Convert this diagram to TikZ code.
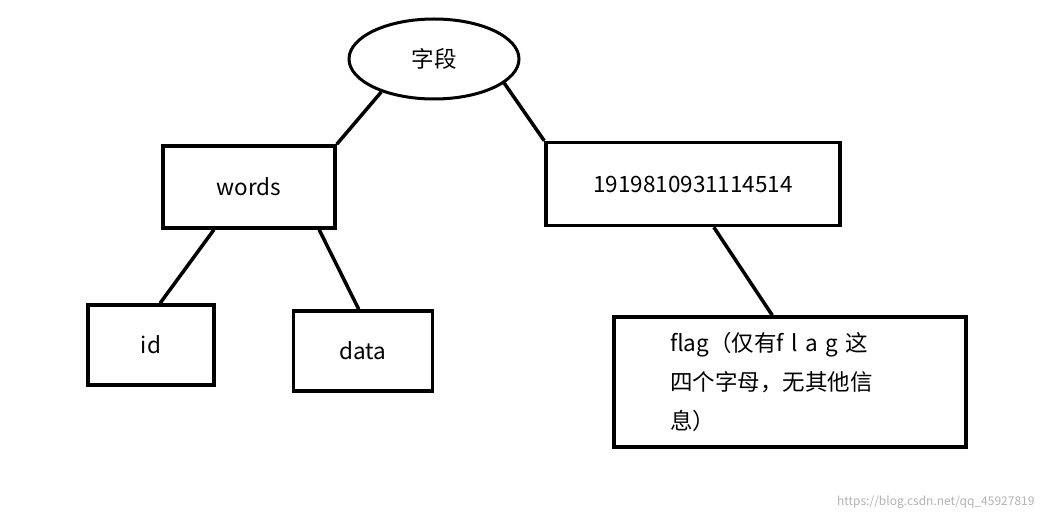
\documentclass[tikz,border=0pt]{standalone}
\usepackage{fontspec}
\setmainfont{Noto Sans CJK SC}
\usetikzlibrary{shapes.geometric,calc}
\begin{document}
\begin{tikzpicture}[x=1pt,y=-1pt,
  box/.style={draw,line width=3.5pt,rectangle,font=\fontsize{22.5}{27}\selectfont},
  ln/.style={line width=3.5pt}]
\useasboundingbox (0,0) rectangle (1046,521);
\node[draw,line width=3pt,ellipse,minimum width=170pt,minimum height=80pt,font=\fontsize{22.5}{27}\selectfont] (f) at (434,59) {字段};
\node[box,minimum width=172pt,minimum height=82pt] (w) at (249,187) {words};
\node[box,minimum width=294pt,minimum height=83pt] (n) at (693,184) {1919810931114514};
\node[box,minimum width=126pt,minimum height=80pt] (i) at (151,345) {id};
\node[box,minimum width=139pt,minimum height=80pt] (d) at (363,351) {data};
\node[box,minimum width=352pt,minimum height=130pt,align=left,text width=240pt,font=\fontsize{22.5}{39}\selectfont] (g) at (790,382) {flag（仅有f l a g 这\\四个字母，无其他信\\息）};
\draw[ln] (f.212) -- (w.north east);
\draw[ln] (f.-19) -- (n.north west);
\draw[ln] ($(w.south west)!0.3!(w.south east)$) -- ($(i.north west)!0.57!(i.north east)$);
\draw[ln] ($(w.south west)!0.9!(w.south east)$) -- ($(d.north west)!0.47!(d.north east)$);
\draw[ln] ($(n.south west)!0.57!(n.south east)$) -- ($(g.north west)!0.45!(g.north east)$);
\node[text=gray!60,font=\fontsize{12}{14}\selectfont,anchor=east] (wm) at (1038,502) {https://blog.csdn.net/qq\_45927819};
\end{tikzpicture}
\end{document}
